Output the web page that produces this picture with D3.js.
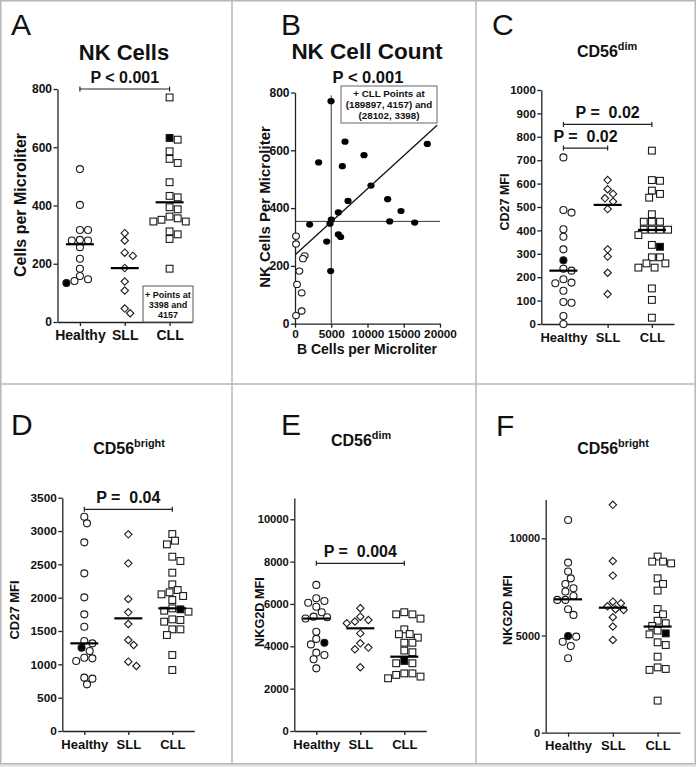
<!DOCTYPE html>
<html>
<head>
<meta charset="utf-8">
<script src="https://cdn.jsdelivr.net/npm/d3@7"></script>
<style>
body{margin:0;background:#fff}
svg text{font-family:"Liberation Sans",Arial,Helvetica,sans-serif;font-weight:bold;fill:#111}
</style>
</head>
<body>
<div id="chart"></div>
<script>
// groups on the x axis of the dot plots
var groups = ["Healthy","SLL","CLL"]

// A: NK cells per microliter
var cellsHealthy = [525,402,316,316,282,280,280,257,217,183,158,147,141]
var cellsHealthyMarked = [134]
var cellsSLL = [305,280,238,227,185,139,108,46,30]
var cellsCLL = [771,626,586,560,546,480,433,428,394,387,362,356,351,345,345,311,301,285,183]
var cellsCLLMarked = [632]
var cellsMedians = [267,185,411]
var cellsOffScale = [3398,4157]
var cellsTicks = [0,200,400,600,800]

// B: NK cell count vs B cell count
var scatterSLLx = [140,140,1330,1100,600,280,920,920,140]
var scatterSLLy = [303,276,235,225,182,136,107,44,28]
var scatterCLLx = [4970,6900,9520,3260,6530,18250,10480,7310,12780,5980,14620,5010,4830,2020,13060,16510,5980,6300,4370,4920]
var scatterCLLy = [770,630,583,558,545,622,478,425,431,385,390,360,346,343,354,350,309,300,284,182]
var scatterOffScale = [[189897,4157],[28102,3398]]
var fitIntercept = 238, fitSlope = 0.0229, fitFrom = 100, fitTo = 19600
var medianBcells = 5000, medianNK = 354
var scatterXTicks = [0,5000,10000,15000,20000]
var scatterYTicks = [0,200,400,600,800]

// C: CD27 MFI, CD56dim
var cd27DimHealthy = [712,487,476,405,373,319,236,228,191,177,174,142,94,91,34,0]
var cd27DimHealthyMarked = [272]
var cd27DimSLL = [615,576,556,537,523,491,319,288,219,128]
var cd27DimCLL = [741,615,612,570,556,540,469,437,437,437,403,403,403,403,380,338,285,285,259,259,241,241,152,103,27]
var cd27DimCLLMarked = [330]
var cd27DimMedians = [228,509,402]
var cd27DimTicks = d3.range(0,1001,100)

// D: CD27 MFI, CD56bright
var cd27BrightHealthy = [3215,3115,2830,2365,2005,1750,1565,1350,1315,1200,1100,1090,1050,800,785,700]
var cd27BrightHealthyMarked = [1250]
var cd27BrightSLL = [2950,2515,1980,1780,1605,1365,1290,1040,975]
var cd27BrightCLL = [2955,2855,2800,2615,2550,2375,2200,2115,2080,2050,2025,1965,1840,1805,1790,1675,1665,1640,1525,1525,1440,1140,915]
var cd27BrightCLLMarked = [1825]
var cd27BrightMedians = [1315,1690,1840]
var cd27BrightTicks = d3.range(0,3501,500)

// E: NKG2D MFI, CD56dim
var nkg2dDimHealthy = [6900,6270,6140,6060,5870,5610,5400,5370,5310,4690,4350,4090,3700,3590,3390,2960]
var nkg2dDimHealthyMarked = [4170]
var nkg2dDimSLL = [5800,5400,5240,5170,5090,4610,4140,3940,3860,3010]
var nkg2dDimCLL = [5610,5510,5510,5310,4800,4580,4570,4410,4170,4170,3800,3720,3200,3200,2720,2720,2650,2570,2490]
var nkg2dDimCLLMarked = [3310]
var nkg2dDimMedians = [5310,4850,3510]
var nkg2dDimTicks = [0,2000,4000,6000,8000,10000]

// F: NKG2D MFI, CD56bright
var nkg2dBrightHealthy = [10940,8750,8290,7940,7650,7430,7260,7030,6830,6830,6350,6060,4940,4680,4460,3830]
var nkg2dBrightHealthyMarked = [4970]
var nkg2dBrightSLL = [11720,8830,8080,6740,6660,6500,6350,6310,5940,5460,4770]
var nkg2dBrightCLL = [9060,8800,8800,8710,7940,7650,7310,6360,6090,5760,5630,5490,5250,5060,4650,4510,3910,3360,3280,3230,1650]
var nkg2dBrightCLLMarked = [5110]
var nkg2dBrightMedians = [6860,6430,5460]
var nkg2dBrightTicks = [0,5000,10000]

var W = 696, H = 767
var svg = d3.select("#chart").append("svg").attr("width",W).attr("height",H)

// panel frame
svg.append("rect").attr("x",0).attr("y",764).attr("width",W).attr("height",3).attr("fill","#e4e4e4")
var frame = svg.append("g").attr("stroke","#b8b8b8").attr("stroke-width",1.5).attr("fill","none")
frame.append("rect").attr("x",0.75).attr("y",0.75).attr("width",W-1.5).attr("height",763)
frame.append("line").attr("x1",232).attr("x2",232).attr("y1",0).attr("y2",764)
frame.append("line").attr("x1",476).attr("x2",476).attr("y1",0).attr("y2",764)
frame.append("line").attr("x1",0).attr("x2",W).attr("y1",384).attr("y2",384)

function letter(t,x,y){
	svg.append("text").attr("x",x).attr("y",y).style("font-size","30px").style("font-weight","normal").text(t)
}

function title(x,y,main,sup,fs){
	var t = svg.append("text").attr("x",x).attr("y",y).attr("text-anchor","middle").style("font-size",fs+"px").text(main)
	if(sup) t.append("tspan").attr("dy",-fs*0.42).style("font-size",(fs*0.68)+"px").text(sup)
}

function yLabel(t,cx,cy,fs){
	svg.append("text").attr("transform",`translate(${cx+fs*0.36},${cy}) rotate(-90)`)
		.attr("text-anchor","middle").style("font-size",fs+"px").text(t)
}

function styleAxis(g,fs){
	g.attr("font-family",null).attr("font-size",null)
	g.selectAll("text").style("font-size",fs+"px").attr("fill",null)
	g.selectAll("path,line").attr("stroke","#222").attr("stroke-width",1.3)
}

function marker(g,shape,filled,cx,cy){
	var m
	if(shape=="circle") m = g.append("circle").attr("cx",cx).attr("cy",cy).attr("r",3.5)
	else if(shape=="square") m = g.append("rect").attr("x",cx-3.4).attr("y",cy-3.4).attr("width",6.8).attr("height",6.8)
	else m = g.append("path").attr("d",`M${cx},${cy-3.7}L${cx+3.7},${cy}L${cx},${cy+3.7}L${cx-3.7},${cy}Z`)
	m.attr("fill",filled?"#000":"#fff").attr("stroke","#1a1a1a").attr("stroke-width",1.1)
}

// simple beeswarm: put each point at the nearest free horizontal offset
function swarm(points,y,r){
	var pts = points.map(p=>({v:p.v,filled:p.filled,py:y(p.v)})).sort((a,b)=>a.py-b.py)
	var placed = []
	pts.forEach(p=>{
		p.dx = 0
		for(var k=0;k<60;k++){
			var off = k==0 ? 0 : (k%2 ? 1 : -1)*Math.ceil(k/2)*r*0.75
			if(placed.every(q=>Math.hypot(q.dx-off,q.py-p.py)>=r*1.95)){ p.dx = off; break }
		}
		placed.push(p)
	})
	return pts
}

function bracket(g,xa,xb,yy,label,fs){
	var b = g.append("g").attr("stroke","#222").attr("stroke-width",1.2)
	b.append("line").attr("x1",xa).attr("x2",xb).attr("y1",yy).attr("y2",yy)
	b.append("line").attr("x1",xa).attr("x2",xa).attr("y1",yy-2.5).attr("y2",yy+2.5)
	b.append("line").attr("x1",xb).attr("x2",xb).attr("y1",yy-2.5).attr("y2",yy+2.5)
	g.append("text").attr("x",(xa+xb)/2).attr("y",yy-6).attr("text-anchor","middle").style("font-size",fs+"px").text(label)
}

function dotPanel(o){
	var g = svg.append("g")
	var x = d3.scalePoint().domain(groups).range([o.left,o.right]).padding(0.5)
	var y = d3.scaleLinear().domain([0,o.max]).range([o.zero,o.topPx])

	var ya = g.append("g").attr("transform",`translate(${o.left},0)`)
		.call(d3.axisLeft(y).tickValues(o.ticks).tickSize(4).tickPadding(1.5).tickSizeOuter(0).tickFormat(d3.format("d")))
	styleAxis(ya,o.tickFs)
	var xa = g.append("g").attr("transform",`translate(0,${o.zero})`)
		.call(d3.axisBottom(x).tickSize(4).tickPadding(4.5).tickSizeOuter(0))
	styleAxis(xa,o.catFs)

	var shapes = ["circle","diamond","square"]
	o.data.forEach((set,i)=>{
		var pts = set[0].map(v=>({v:v,filled:false})).concat((set[1]||[]).map(v=>({v:v,filled:true})))
		pts = pts.filter(p=>p.v<=o.max)
		swarm(pts,y,3.6).forEach(p=>marker(g,shapes[i],p.filled,x(groups[i])+p.dx,p.py))
		g.append("line").attr("x1",x(groups[i])-14).attr("x2",x(groups[i])+14)
			.attr("y1",y(o.medians[i])).attr("y2",y(o.medians[i]))
			.attr("stroke","#000").attr("stroke-width",2.2)
	})
	;(o.brackets||[]).forEach(b=>bracket(g,x(groups[b.from]),x(groups[b.to]),y(b.at),b.label,16))
	return {g:g,x:x,y:y}
}

// ---------- A ----------
letter("A",11,35)
title(124,60,"NK Cells",null,22)
var pA = dotPanel({left:57.5,right:192,zero:322,topPx:89,max:800,ticks:cellsTicks,tickFs:12,catFs:14,
	data:[[cellsHealthy,cellsHealthyMarked],[cellsSLL],[cellsCLL,cellsCLLMarked]],
	medians:cellsMedians,
	brackets:[{from:0,to:2,at:800,label:"P < 0.001"}]})
yLabel("Cells per Microliter",20,205,16)
var boxA = pA.g.append("g")
boxA.append("rect").attr("x",143).attr("y",286).attr("width",50).attr("height",36)
	.attr("fill","#fff").attr("stroke","#555").attr("stroke-width",1)
;["+ Points at",cellsOffScale[0]+" and",""+cellsOffScale[1]].forEach((t,i)=>{
	boxA.append("text").attr("x",168).attr("y",297.5+i*10).attr("text-anchor","middle").style("font-size","9px").text(t)
})

// ---------- B ----------
letter("B",281,35)
title(367,59,"NK Cell Count",null,22.5)
svg.append("text").attr("x",368).attr("y",83).attr("text-anchor","middle").style("font-size","16.5px").text("P < 0.001")
var gB = svg.append("g")
var bx = d3.scaleLinear().domain([0,20000]).range([295,440])
var by = d3.scaleLinear().domain([0,800]).range([323.7,92.5])
var bya = gB.append("g").attr("transform","translate(295,0)")
	.call(d3.axisLeft(by).tickValues(scatterYTicks).tickSize(4).tickPadding(1.5).tickSizeOuter(0))
styleAxis(bya,12)
var bxa = gB.append("g").attr("transform","translate(0,323.7)")
	.call(d3.axisBottom(bx).tickValues(scatterXTicks).tickSize(4).tickPadding(2).tickSizeOuter(0).tickFormat(d3.format("d")))
styleAxis(bxa,11.8)
gB.append("line").attr("x1",bx(medianBcells)).attr("x2",bx(medianBcells)).attr("y1",by(0)).attr("y2",by(790))
	.attr("stroke","#333").attr("stroke-width",1)
gB.append("line").attr("x1",bx(0)).attr("x2",bx(20000)).attr("y1",by(medianNK)).attr("y2",by(medianNK))
	.attr("stroke","#333").attr("stroke-width",1)
scatterSLLx.forEach((v,i)=>{
	gB.append("ellipse").attr("cx",bx(v)).attr("cy",by(scatterSLLy[i])).attr("rx",3.4).attr("ry",3.1)
		.attr("fill","#fff").attr("stroke","#1a1a1a").attr("stroke-width",1.1)
})
scatterCLLx.forEach((v,i)=>{
	gB.append("ellipse").attr("cx",bx(v)).attr("cy",by(scatterCLLy[i])).attr("rx",3.6).attr("ry",3.1)
		.attr("fill","#000")
})
gB.append("line").attr("x1",bx(fitFrom)).attr("x2",bx(fitTo))
	.attr("y1",by(fitIntercept+fitSlope*fitFrom)).attr("y2",by(fitIntercept+fitSlope*fitTo))
	.attr("stroke","#111").attr("stroke-width",1.3)
var boxB = gB.append("g")
boxB.append("rect").attr("x",341).attr("y",86).attr("width",96).attr("height",37)
	.attr("fill","#fff").attr("stroke","#666").attr("stroke-width",1)
;["+ CLL Points at",`(${scatterOffScale[0][0]}, ${scatterOffScale[0][1]}) and`,`(${scatterOffScale[1][0]}, ${scatterOffScale[1][1]})`].forEach((t,i)=>{
	boxB.append("text").attr("x",389).attr("y",96.5+i*11).attr("text-anchor","middle").style("font-size","9.8px").text(t)
})
yLabel("NK Cells Per Microliter",265,207,15)
svg.append("text").attr("x",367).attr("y",354).attr("text-anchor","middle").style("font-size","14px").text("B Cells per Microliter")

// ---------- C ----------
letter("C",492,35)
title(607,57,"CD56","dim",16)
dotPanel({left:541.3,right:674,zero:324,topPx:90,max:1000,ticks:cd27DimTicks,tickFs:11.5,catFs:13,
	data:[[cd27DimHealthy,cd27DimHealthyMarked],[cd27DimSLL],[cd27DimCLL,cd27DimCLLMarked]],
	medians:cd27DimMedians,
	brackets:[{from:0,to:2,at:853,label:"P =\u00a0 0.02"},{from:0,to:1,at:752,label:"P =\u00a0 0.02"}]})
yLabel("CD27 MFI",504,202,12.5)

// ---------- D ----------
letter("D",11,435)
title(129,454,"CD56","bright",16)
dotPanel({left:62.3,right:194.3,zero:731,topPx:497.7,max:3500,ticks:cd27BrightTicks,tickFs:11.8,catFs:13,
	data:[[cd27BrightHealthy,cd27BrightHealthyMarked],[cd27BrightSLL],[cd27BrightCLL,cd27BrightCLLMarked]],
	medians:cd27BrightMedians,
	brackets:[{from:0,to:2,at:3325,label:"P =\u00a0 0.04"}]})
yLabel("CD27 MFI",14,610,13)

// ---------- E ----------
letter("E",281,435)
title(361,446,"CD56","dim",16)
dotPanel({left:294.3,right:426.3,zero:731,topPx:498.1,max:11000,ticks:nkg2dDimTicks,tickFs:11.2,catFs:13,
	data:[[nkg2dDimHealthy,nkg2dDimHealthyMarked],[nkg2dDimSLL],[nkg2dDimCLL,nkg2dDimCLLMarked]],
	medians:nkg2dDimMedians,
	brackets:[{from:0,to:2,at:7920,label:"P =\u00a0 0.004"}]})
yLabel("NKG2D MFI",259,612,12.7)

// ---------- F ----------
letter("F",496,436)
title(613,454,"CD56","bright",16)
dotPanel({left:545.7,right:680,zero:732.7,topPx:499.4,max:12000,ticks:nkg2dBrightTicks,tickFs:11,catFs:13,
	data:[[nkg2dBrightHealthy,nkg2dBrightHealthyMarked],[nkg2dBrightSLL],[nkg2dBrightCLL,nkg2dBrightCLLMarked]],
	medians:nkg2dBrightMedians})
yLabel("NKG2D MFI",507,610,12.7)
</script>
</body>
</html>
